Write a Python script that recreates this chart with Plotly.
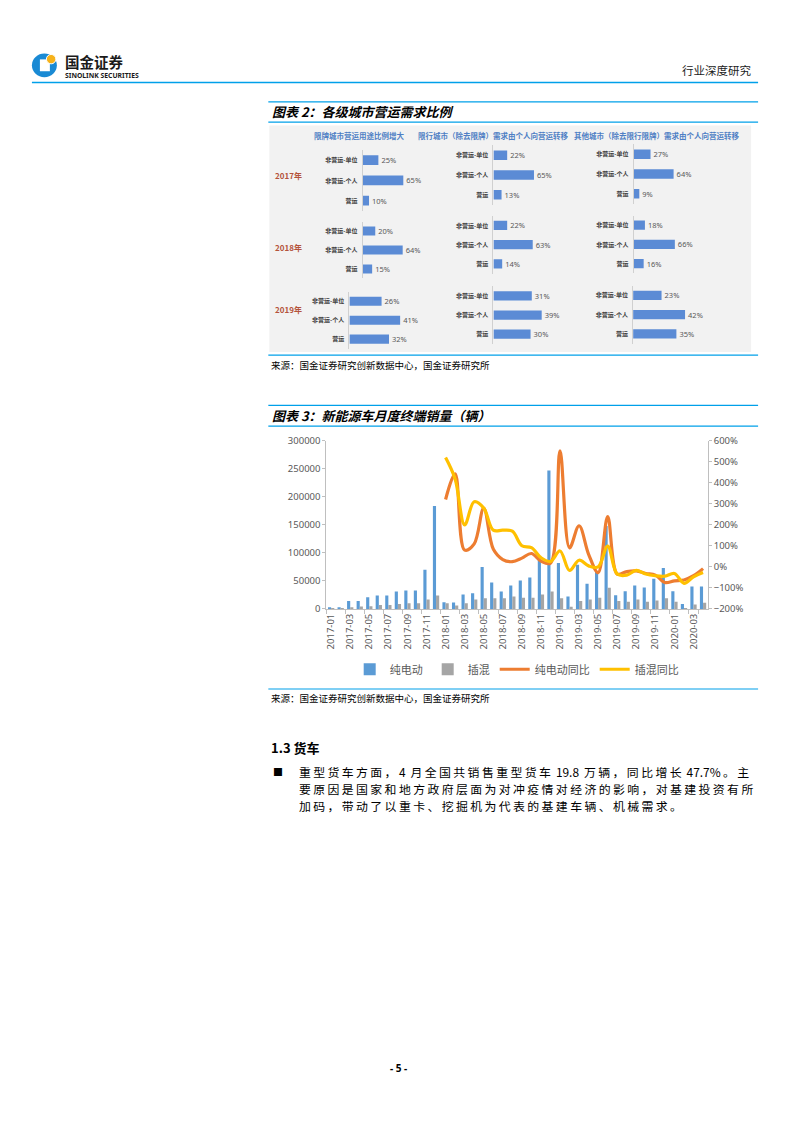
import plotly.graph_objects as go

W, H = 793, 1122
def X(p): return p / W
def Y(p): return 1 - p / H

CJK = "Noto Sans CJK SC"
LAT = "Noto Sans"

# ---------------- Chart 2 data ----------------
city_titles = ["限牌城市营运用途比例增大",
               "限行城市（除去限牌）需求由个人向营运转移",
               "其他城市（除去限行限牌）需求由个人向营运转移"]
years = ["2017年", "2018年", "2019年"]
usage_cats = ["非营运-单位", "非营运-个人", "营运"]
share_2017 = [[25, 65, 10], [22, 65, 13], [27, 64, 9]]
share_2018 = [[20, 64, 15], [22, 63, 14], [18, 66, 16]]
share_2019 = [[26, 41, 32], [31, 39, 30], [23, 42, 35]]

# ---------------- Chart 3 data ----------------
months = ["2017-01", "2017-02", "2017-03", "2017-04", "2017-05", "2017-06", "2017-07", "2017-08",
          "2017-09", "2017-10", "2017-11", "2017-12",
          "2018-01", "2018-02", "2018-03", "2018-04", "2018-05", "2018-06", "2018-07", "2018-08",
          "2018-09", "2018-10", "2018-11", "2018-12",
          "2019-01", "2019-02", "2019-03", "2019-04", "2019-05", "2019-06", "2019-07", "2019-08",
          "2019-09", "2019-10", "2019-11", "2019-12",
          "2020-01", "2020-02", "2020-03", "2020-04"]
month_ticks = ["2017-01", "2017-03", "2017-05", "2017-07", "2017-09", "2017-11",
               "2018-01", "2018-03", "2018-05", "2018-07", "2018-09", "2018-11",
               "2019-01", "2019-03", "2019-05", "2019-07", "2019-09", "2019-11",
               "2020-01", "2020-03"]
ev_sales = [3000, 3000, 14000, 14000, 21000, 24000, 24000, 31000, 33000, 33000, 70000, 184000,
            12000, 11500, 26000, 28000, 75000, 47000, 31000, 42000, 51000, 56000, 87000, 247000,
            82000, 22000, 79000, 45000, 67000, 148000, 24500, 31500, 42000, 38500, 54000, 73000,
            31500, 8800, 40000, 40000]
phev_sales = [1000, 1000, 3000, 4500, 5000, 7000, 7000, 9000, 10000, 10000, 17000, 24000,
              10000, 6000, 10000, 17000, 19000, 19000, 19000, 22000, 20000, 20000, 26000, 31000,
              19000, 4000, 14000, 17000, 20000, 38000, 14000, 13000, 17000, 13000, 15000, 19000,
              13000, 1000, 8000, 11000]
yoy_months = months[12:]
ev_yoy = [321, 443, 80, 110, 280, 85, 35, 25, 42, 64, 28, 18,
          553, 91, 196, 60, -27, 240, -34, -22, -19, -31, -39, -74,
          -66, -62, -42, -8]
phev_yoy = [521, 419, 200, 310, 280, 175, 175, 170, 101, 92, 44, 26,
            76, -17, 32, 5, 0, 99, -34, -39, -16, -34, -42, -44,
            -31, -78, -47, -27]

fig = go.Figure()
layout = dict(
    width=W, height=H, autosize=False,
    margin=dict(l=0, r=0, t=0, b=0),
    paper_bgcolor="white", plot_bgcolor="rgba(0,0,0,0)",
    barmode="group", bargap=0.34, bargroupgap=0,
    showlegend=True,
    font=dict(family=CJK, color="#333333"),
)

# ---------- Chart 3 traces ----------
fig.add_trace(go.Bar(x=months, y=ev_sales, name="纯电动", marker=dict(color="#5b9bd5", line=dict(width=0)),
                     xaxis="x", yaxis="y", hoverinfo="skip"))
fig.add_trace(go.Bar(x=months, y=phev_sales, name="插混", marker=dict(color="#a5a5a5", line=dict(width=0)),
                     xaxis="x", yaxis="y", hoverinfo="skip"))
fig.add_trace(go.Scatter(x=yoy_months, y=ev_yoy, name="纯电动同比", mode="lines",
                         line=dict(color="#ed7d31", width=3.2, shape="spline", smoothing=1),
                         xaxis="x", yaxis="y2", hoverinfo="skip"))
fig.add_trace(go.Scatter(x=yoy_months, y=phev_yoy, name="插混同比", mode="lines",
                         line=dict(color="#ffc000", width=3.2, shape="spline", smoothing=1),
                         xaxis="x", yaxis="y2", hoverinfo="skip"))

axc = "#bfbfbf"
tf = dict(family=LAT, size=9.5, color="#595959")
layout["xaxis"] = dict(domain=[X(325.2), X(707.6)], anchor="y", type="category",
                       categoryorder="array", categoryarray=months,
                       tickmode="array", tickvals=month_ticks, tickangle=-90, tickfont=tf,
                       showline=True, linecolor=axc, ticks="outside", ticklen=4, tickcolor=axc,
                       tickson="boundaries", showgrid=False, zeroline=False, range=[-0.5, 39.5])
layout["yaxis"] = dict(domain=[Y(609), Y(439)], anchor="x", range=[0, 300000], dtick=50000,
                       tickformat="d", tickfont=tf, showline=True, linecolor=axc,
                       ticks="outside", ticklen=3, tickcolor=axc, showgrid=False, zeroline=False)
layout["yaxis2"] = dict(overlaying="y", side="right", anchor="x", range=[-200, 600], dtick=100,
                        ticksuffix="%", tickfont=tf, showline=True, linecolor=axc,
                        ticks="outside", ticklen=3, tickcolor=axc, showgrid=False, zeroline=False)
layout["legend"] = dict(orientation="h", x=X(516), xanchor="center", y=Y(670), yanchor="middle",
                        font=dict(family=CJK, size=11, color="#595959"), bgcolor="rgba(0,0,0,0)",
                        itemwidth=30, traceorder="normal")

# ---------- Chart 2 small multiples ----------
shares = [share_2017, share_2018, share_2019]
axis_left = [[361.7, 492.7, 633.3], [361.7, 492.7, 633.3], [348.3, 492.7, 632.7]]
bar_centers = [[[155, 175.5, 196], [150, 170, 190], [149, 169, 189]],
               [[226.7, 245.7, 265], [221, 240.7, 260], [220.7, 240, 259.7]],
               [[297.7, 316.7, 336], [292.3, 311.7, 331], [291.7, 311, 330.7]]]
px_per_pct = [0.625, 0.625, 1.24]
n = 3
for r in range(3):
    for c in range(3):
        vals = shares[r][c]
        cen = bar_centers[r][c]
        s = (cen[2] - cen[0]) / 2
        top, bot = cen[0] - s / 2, cen[2] + s / 2
        x0 = axis_left[r][c]
        wpx = 110
        fig.add_trace(go.Bar(y=usage_cats, x=vals, orientation="h", xaxis=f"x{n}", yaxis=f"y{n}",
                             marker=dict(color="#5b8bd5", line=dict(width=0)), width=0.48,
                             text=[f"{v}%" for v in vals], textposition="outside",
                             textfont=dict(family=LAT, size=7.5, color="#595959"),
                             constraintext="none", cliponaxis=False, showlegend=False,
                             hoverinfo="skip"))
        layout[f"xaxis{n}"] = dict(domain=[X(x0), X(x0 + wpx)], range=[0, wpx / px_per_pct[r]],
                                   visible=False, anchor=f"y{n}", fixedrange=True)
        layout[f"yaxis{n}"] = dict(domain=[Y(bot), Y(top)], anchor=f"x{n}", type="category",
                                   categoryorder="array", categoryarray=usage_cats,
                                   autorange="reversed", showline=True, linecolor="#d0d0d0",
                                   linewidth=1, ticks="", showgrid=False, zeroline=False,
                                   ticklabelstandoff=3,
                                   tickfont=dict(family=CJK, size=6, color="#404040", weight="bold"))
        n += 1

# ---------- shapes ----------
shapes = []
def hline(y, x0, x1, color="#00a0e9", w=1.2):
    shapes.append(dict(type="line", xref="paper", yref="paper", x0=X(x0), x1=X(x1), y0=Y(y), y1=Y(y),
                       line=dict(color=color, width=w)))
hline(76.5, 30, 758, w=1.5)
hline(96, 267, 758)
hline(116.5, 267, 758)
hline(352.3, 267, 758)
hline(403, 267, 758)
hline(424, 267, 758)
hline(690, 267, 758)
# chart 2 background
shapes.append(dict(type="rect", xref="paper", yref="paper", x0=X(268), x1=X(751), y0=Y(349), y1=Y(120),
                   fillcolor="#f2f2f2", line=dict(width=0), layer="below"))
# logo
shapes.append(dict(type="circle", xref="paper", yref="paper", x0=X(30), x1=X(55), y0=Y(71), y1=Y(47),
                   fillcolor="#1a8ad4", line=dict(width=0)))
shapes.append(dict(type="rect", xref="paper", yref="paper", x0=X(38), x1=X(48), y0=Y(65), y1=Y(53),
                   fillcolor="white", line=dict(width=0)))
shapes.append(dict(type="circle", xref="paper", yref="paper", x0=X(44.5), x1=X(54), y0=Y(57.5), y1=Y(48),
                   fillcolor="#f6b21b", line=dict(color="white", width=1)))
layout["shapes"] = shapes

# ---------- annotations ----------
ann = []
def text(x, y, s, size, color="#000000", family=CJK, xanchor="left", weight="normal", style="normal"):
    ann.append(dict(xref="paper", yref="paper", x=X(x), y=Y(y), text=s, showarrow=False,
                    xanchor=xanchor, yanchor="middle",
                    font=dict(family=family, size=size, color=color, weight=weight, style=style)))

# header
text(61, 55, "国金证券", 14.5, "#1a1a1a", weight="bold")
text(61, 69.8, "SINOLINK SECURITIES", 6.8, "#1a1a1a", family=LAT, weight="bold")
text(753, 63.5, "行业深度研究", 11.5, "#222222", xanchor="right")

# chart 2
text(269, 106, "图表 2：各级城市营运需求比例", 13, "#000000", weight="bold", style="italic")
title_centers = [358, 492, 656]
for tc, t in zip(title_centers, city_titles):
    text(tc, 130.5, t, 7.5, "#4f7fc4", xanchor="center", weight="bold")
year_y = [170, 243, 306]
for yy, t in zip(year_y, years):
    text(287.5, yy, t, 8, "#b4533b", xanchor="center", weight="bold")
text(268, 362.5, "来源：国金证券研究创新数据中心，国金证券研究所", 9.5, "#000000")

# chart 3
text(269, 413.5, "图表 3：新能源车月度终端销量（辆）", 13, "#000000", weight="bold", style="italic")
text(268, 699, "来源：国金证券研究创新数据中心，国金证券研究所", 9.5, "#000000")

# section text
def spaced(s):
    out = ""
    for i, ch in enumerate(s):
        out += ch
        if i < len(s) - 1:
            nxt = s[i + 1]
            if not (ch.isascii() and nxt.isascii()):
                out += "\u2009"
    return out

text(268, 749.5, "1.3 货车", 13, "#000000", weight="bold")
text(270, 773.5, "■", 10, "#000000")
body_lines = ["重型货车方面，4 月全国共销售重型货车 19.8 万辆，同比增长 47.7%。主",
              "要原因是国家和地方政府层面为对冲疫情对经济的影响，对基建投资有所",
              "加码，带动了以重卡、挖掘机为代表的基建车辆、机械需求。"]
for i, ln in enumerate(body_lines):
    text(296, 773.5 + i * 17.2, spaced(ln), 11.9, "#000000")

text(398, 1073, "- 5 -", 10, "#000000", family=LAT, xanchor="center", weight="bold")

layout["annotations"] = ann
fig.update_layout(**layout)
fig.write_html("out.html", config={"displayModeBar": False},
               post_script="document.body.style.margin='0';document.body.style.overflow='hidden';")
